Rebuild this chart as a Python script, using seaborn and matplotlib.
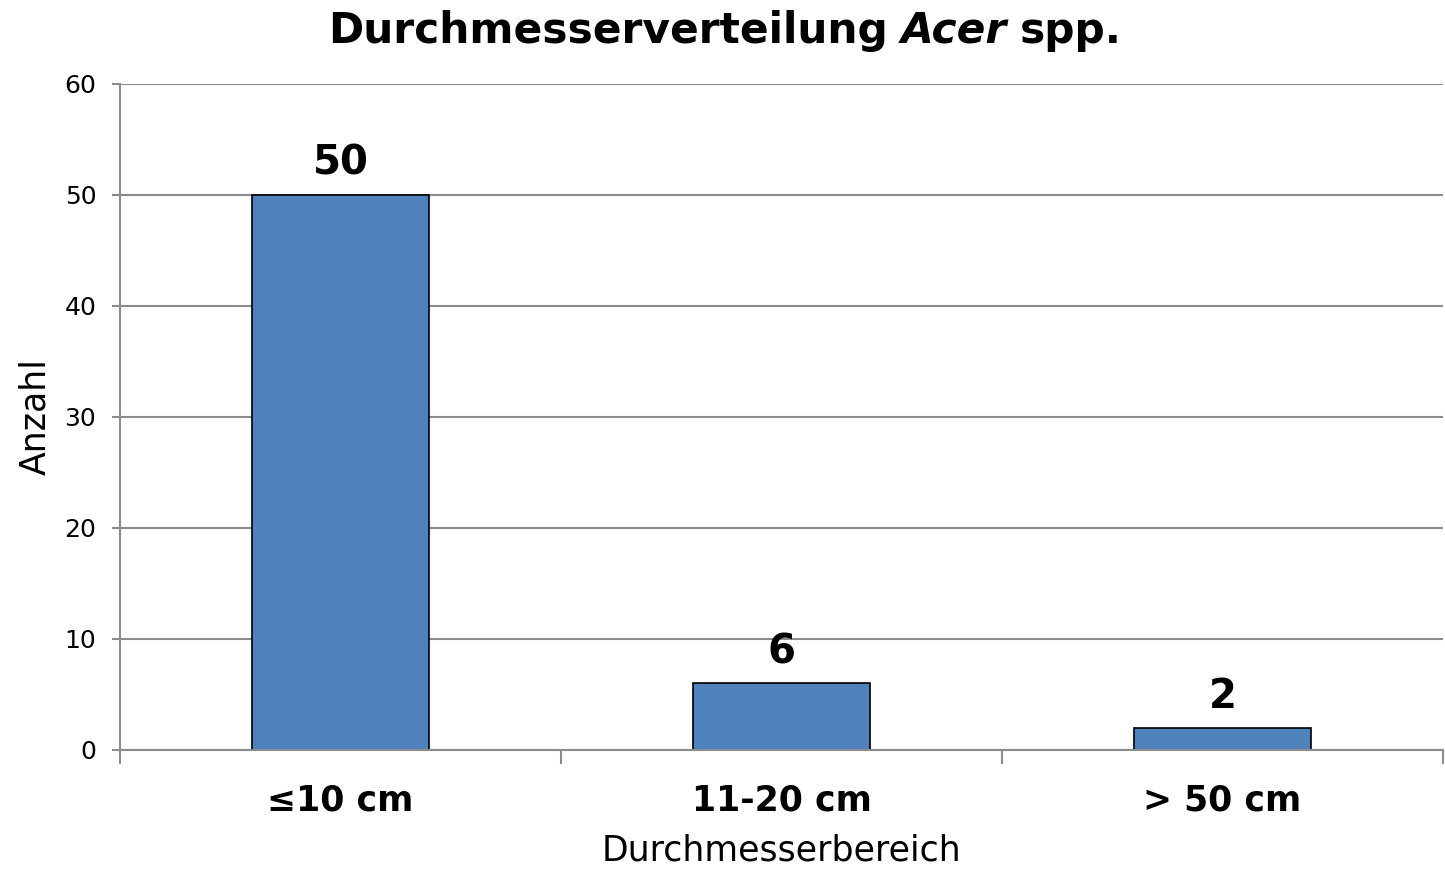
import matplotlib
matplotlib.use('Agg')
import matplotlib.pyplot as plt
import seaborn as sns
import pandas as pd
import numpy as np

categories = ['≤10 cm', '11-20 cm', '> 50 cm']
counts = [50, 6, 2]
y_ticks = [0, 10, 20, 30, 40, 50, 60]

sns.set_theme(style='white')
plt.rcParams['font.family'] = ['DejaVu Sans']
plt.rcParams['text.color'] = 'black'
plt.rcParams['axes.labelcolor'] = 'black'
plt.rcParams['xtick.labelcolor'] = 'black'
plt.rcParams['ytick.labelcolor'] = 'black'

df = pd.DataFrame({'Bereich': categories, 'Anzahl': counts})

fig = plt.figure(figsize=(14.45, 8.72), dpi=100)
ax = fig.add_axes([0.083, 0.14, 0.9157, 0.7637])

grid_col = '#8c8c8c'
ax.set_axisbelow(True)
ax.yaxis.grid(True, color=grid_col, linewidth=1.5)

sns.barplot(data=df, x='Bereich', y='Anzahl', color='#4F81BD', width=0.4,
            edgecolor='black', linewidth=1.2, saturation=1, ax=ax)

ax.set_xlim(-0.5, 2.5)
ax.set_ylim(0, 60)
ax.set_yticks(y_ticks)
ax.tick_params(axis='y', labelsize=18, length=6, width=1.5, color=grid_col,
               left=True, pad=11)
ax.tick_params(axis='x', which='major', length=0, labelsize=25, pad=24)
ax.set_xticks(np.arange(-0.5, 3, 1), minor=True)
ax.tick_params(axis='x', which='minor', length=10, width=1.5, color=grid_col, bottom=True)
for lab in ax.get_xticklabels():
    lab.set_fontweight('bold')

for side in ['top', 'right']:
    ax.spines[side].set_visible(False)
for side in ['left', 'bottom']:
    ax.spines[side].set_color(grid_col)
    ax.spines[side].set_linewidth(1.5)

ax.set_xlabel('Durchmesserbereich', fontsize=25, labelpad=12)
ax.set_ylabel('Anzahl', fontsize=25, labelpad=9)

ax.bar_label(ax.containers[0], fontsize=29, fontweight='bold', padding=8)

# title with italic genus name
t1 = fig.text(0.0, 0.951, 'Durchmesserverteilung', fontsize=30.5, fontweight='bold', va='baseline')
t2 = ax.annotate('Acer', xy=(1, 0), xycoords=t1, xytext=(9, 0), textcoords='offset points',
                 fontsize=30.5, fontweight='bold', style='italic', va='bottom', annotation_clip=False)
t3 = ax.annotate('spp.', xy=(1, 0), xycoords=t2, xytext=(9, 0), textcoords='offset points',
                 fontsize=30.5, fontweight='bold', va='bottom', annotation_clip=False)
fig.canvas.draw()
r = fig.canvas.get_renderer()
x0 = t1.get_window_extent(r).x0
x1 = t3.get_window_extent(r).x1
W = fig.bbox.width
t1.set_x((725 - (x1 - x0) / 2) / W)

fig.savefig('out.png', dpi=100)
